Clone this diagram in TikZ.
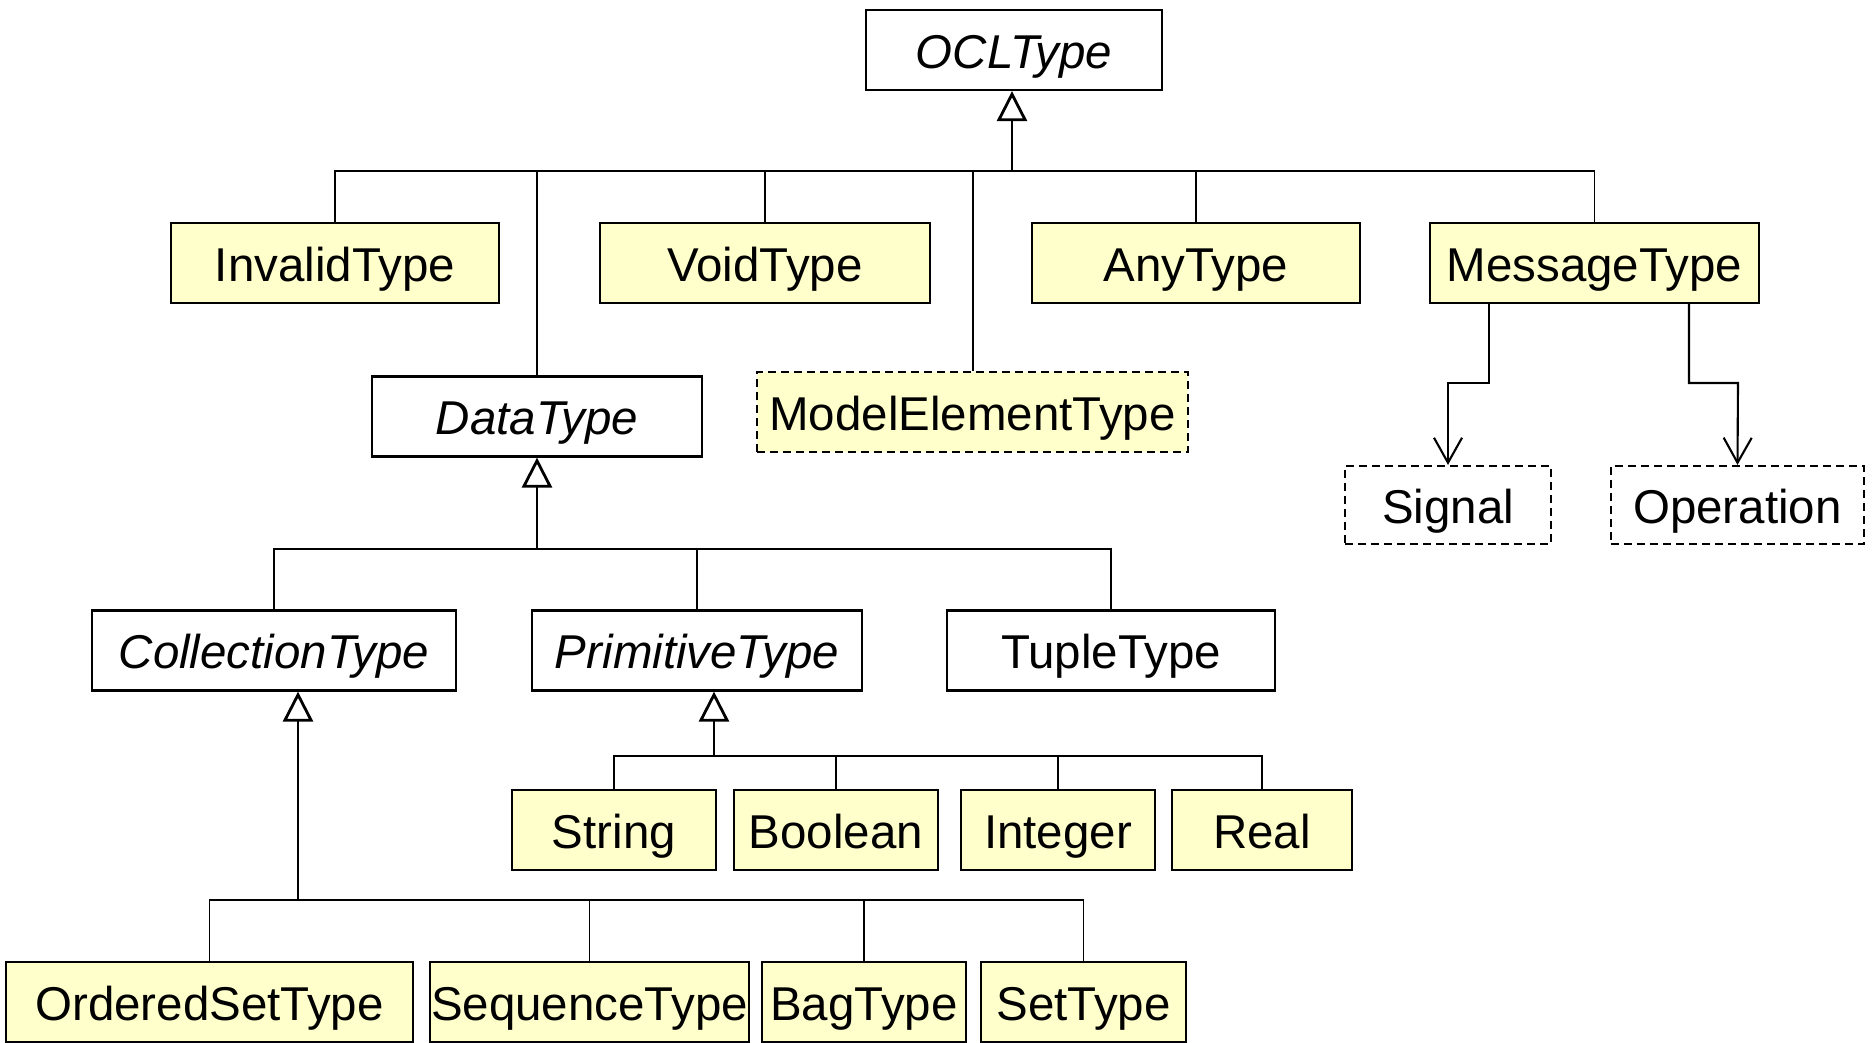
\documentclass[tikz,border=0pt]{standalone}
\usepackage{fontspec}
\setmainfont{Liberation Sans}
\usepackage{tikz}
\usetikzlibrary{arrows.meta,positioning,calc}

\definecolor{umlyellow}{RGB}{255,255,204}
\newcommand{\umlfont}{\fontsize{13.5pt}{16pt}\selectfont}

\begin{document}
\begin{tikzpicture}[x=0.01cm,y=-0.01cm,
    box/.style={draw, line width=0.6pt, minimum height=0.8cm, inner sep=0pt,
      text height=0.36cm, text depth=0cm, font=\umlfont},
    ybox/.style={box, fill=umlyellow},
    dbox/.style={dash pattern=on 2.3pt off 1.4pt},
    abstr/.style={font=\umlfont\itshape},
    gen/.style={-{Triangle[open, length=0.3cm, width=0.3cm]}, line width=0.8pt},
    nav/.style={-{Straight Barb[length=0.25cm, width=0.28cm]}, line width=0.6pt},
    link/.style={line width=0.5pt}]
      \useasboundingbox (0,0) rectangle (1872,1042);

      % classes
      \node[box, abstr, minimum width=2.96cm] (ocl) at (1014,50) {OCLType};
      \node[ybox, minimum width=3.28cm] (invalid) at (335,263) {InvalidType};
      \node[ybox, minimum width=3.30cm] (void) at (765,263) {VoidType};
      \node[ybox, minimum width=3.28cm] (any) at (1196,263) {AnyType};
      \node[ybox, minimum width=3.29cm] (message) at (1594.5,263) {MessageType};
      \node[box, abstr, minimum width=3.30cm] (data) at (537,416.5) {DataType};
      \node[ybox, dbox, minimum width=4.31cm] (model) at (972.5,412) {ModelElementType};
      \node[box, dbox, minimum width=2.06cm, minimum height=0.78cm] (signal) at (1448,505) {Signal};
      \node[box, dbox, minimum width=2.53cm, minimum height=0.78cm] (operation) at (1737.5,505) {Operation};
      \node[box, abstr, minimum width=3.64cm] (coll) at (274,650.5) {CollectionType};
      \node[box, abstr, minimum width=3.30cm] (prim) at (697,650.5) {PrimitiveType};
      \node[box, minimum width=3.28cm] (tuple) at (1111,650.5) {TupleType};
      \node[ybox, minimum width=2.04cm] (string) at (614,830) {String};
      \node[ybox, minimum width=2.04cm] (boolean) at (836,830) {Boolean};
      \node[ybox, minimum width=1.94cm] (integer) at (1058,830) {Integer};
      \node[ybox, minimum width=1.80cm] (real) at (1262,830) {Real};
      \node[ybox, minimum width=4.07cm] (ordered) at (209.5,1002) {OrderedSetType};
      \node[ybox, minimum width=3.19cm] (sequence) at (589.5,1002) {SequenceType};
      \node[ybox, minimum width=2.04cm] (bag) at (864,1002) {BagType};
      \node[ybox, minimum width=2.05cm] (set) at (1083.5,1002) {SetType};

      % generalisation buses
      \coordinate (topbus) at (1012,171);
      \coordinate (databus) at (537,549);
      \coordinate (primbus) at (714,756);
      \coordinate (collbus) at (298,900);

      \draw[gen] (topbus) -- (topbus |- ocl.south);
      \draw[link] (invalid.north) |- (message.north |- topbus) -- (message.north);
      \draw[link] (void.north) -- (void.north |- topbus);
      \draw[link] (any.north) -- (any.north |- topbus);
      \draw[link] (data.north) -- (data.north |- topbus);
      \draw[link] (model.north -| 973,0) -- (973,171);

      \draw[gen] (databus) -- (databus |- data.south);
      \draw[link] (coll.north) |- (tuple.north |- databus) -- (tuple.north);
      \draw[link] (prim.north) -- (prim.north |- databus);

      \draw[gen] (primbus) -- (primbus |- prim.south);
      \draw[link] (string.north) |- (real.north |- primbus) -- (real.north);
      \draw[link] (boolean.north) -- (boolean.north |- primbus);
      \draw[link] (integer.north) -- (integer.north |- primbus);

      \draw[gen] (collbus) -- (collbus |- coll.south);
      \draw[link] (ordered.north) |- (set.north |- collbus) -- (set.north);
      \draw[link] (sequence.north) -- (sequence.north |- collbus);
      \draw[link] (bag.north) -- (bag.north |- collbus);

      % navigations of MessageType
      \draw[nav] (message.south -| 1489,0) |- (1448,383) -- (signal.north);
      \draw[nav] (message.south -| 1689,0) |- (1738,383) -- (operation.north);
\end{tikzpicture}
\end{document}
